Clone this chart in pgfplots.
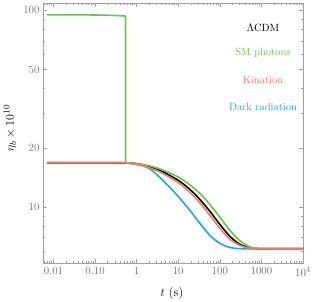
\documentclass[border=0pt]{standalone}
\usepackage{pgfplots}
\pgfplotsset{compat=1.18}
\definecolor{cgreen}{RGB}{108,194,72}
\definecolor{cred}{RGB}{240,122,108}
\definecolor{cblue}{RGB}{26,166,226}
\definecolor{axgray}{RGB}{160,160,160}
\definecolor{txgray}{RGB}{110,110,110}
\begin{document}
\begin{tikzpicture}
\begin{axis}[
  scale only axis, width=260pt, height=260pt,
  xmode=log, ymode=log,
  xmin=0.0056, xmax=10000, ymin=5.2, ymax=109,
  axis line style={axgray, line width=0.6pt},
  tick style={axgray, line width=0.5pt},
  major tick length=4pt, minor tick length=2pt,
  tick align=inside, xtick pos=both, ytick pos=both,
  xtick={0.01,0.1,1,10,100,1000,10000},
  xticklabels={0.01,0.10,1,10,100,1000,$10^4$},
  minor xtick={0.006,0.007,0.008,0.009,0.02,0.03,0.04,0.05,0.06,0.07,0.08,0.09,0.2,0.3,0.4,0.5,0.6,0.7,0.8,0.9,2,3,4,5,6,7,8,9,20,30,40,50,60,70,80,90,200,300,400,500,600,700,800,900,2000,3000,4000,5000,6000,7000,8000,9000},
  ytick={10,20,50,100},
  yticklabels={10,20,50,100},
  minor ytick={6,7,8,9,30,40,60,70,80,90},
  ticklabel style={txgray, font=\fontsize{11}{13}\selectfont},
  xticklabel style={yshift=-1pt},
  xlabel={$t$ (s)},
  ylabel={$\eta_b \times 10^{10}$},
  label style={font=\fontsize{12.5}{15}\selectfont},
  xlabel style={at={(axis description cs:0.496,-0.115)}, anchor=center},
  ylabel style={at={(axis description cs:-0.127,0.52)}, anchor=center},
  clip=true,
]
% Dark radiation
\addplot[cblue, line width=1.6pt, smooth] coordinates {
(0.007,16.8) (0.4,16.8) (0.69,16.65) (1.2,16.38) (2.09,15.63) (3.63,14.15) (6.31,12.59) (11.0,11.07) (19.1,9.62) (33.2,8.27) (57.8,7.18) (100.5,6.54) (175,6.24) (304,6.15) (1000,6.15) (10000,6.15)};
% LambdaCDM
\addplot[black, line width=1.6pt, smooth] coordinates {
(0.007,16.8) (0.4,16.8) (0.69,16.76) (1.2,16.51) (2.09,16.00) (3.63,15.36) (6.31,14.48) (11.0,13.50) (19.1,12.30) (33.2,10.94) (57.8,9.51) (100.5,8.17) (175,7.10) (304,6.47) (529,6.21) (920,6.15) (2000,6.15) (10000,6.15)};
% SM photons
\addplot[cgreen, line width=1.6pt] coordinates {
(0.007,95) (0.05,94.9) (0.2,94.5) (0.45,93.8) (0.538,93.5) (0.538,16.8)};
\addplot[cgreen, line width=1.6pt, smooth] coordinates {
(0.538,16.8) (0.69,16.76) (1.2,16.57) (2.09,16.19) (3.63,15.63) (6.31,14.92) (11.0,14.07) (19.1,12.96) (33.2,11.74) (57.8,10.32) (100.5,8.87) (175,7.62) (304,6.74) (529,6.28) (920,6.15) (2000,6.15) (10000,6.15)};
% Kination
\addplot[cred, line width=1.6pt, smooth] coordinates {
(0.007,16.8) (0.4,16.78) (0.69,16.7) (1.2,16.38) (2.09,15.81) (3.63,15.09) (6.31,14.15) (11.0,13.12) (19.1,11.88) (33.2,10.50) (57.8,9.08) (100.5,7.80) (175,6.86) (304,6.39) (529,6.18) (920,6.15) (2000,6.15) (10000,6.15)};
\node[black, font=\fontsize{10.5}{12}\selectfont] at (rel axis cs:0.846,0.904) {$\Lambda$CDM};
\node[cgreen, font=\fontsize{10.5}{12}\selectfont] at (rel axis cs:0.846,0.808) {SM photons};
\node[cred, font=\fontsize{10.5}{12}\selectfont] at (rel axis cs:0.846,0.704) {Kination};
\node[cblue, font=\fontsize{10.5}{12}\selectfont] at (rel axis cs:0.846,0.600) {Dark radiation};
\end{axis}
\pgfresetboundingbox
\path (current axis.south west) ++(-43pt,-39pt) coordinate (bbA);
\path (current axis.north east) ++(10pt,3pt) coordinate (bbB);
\path[use as bounding box] (bbA) rectangle (bbB);
\end{tikzpicture}
\end{document}
